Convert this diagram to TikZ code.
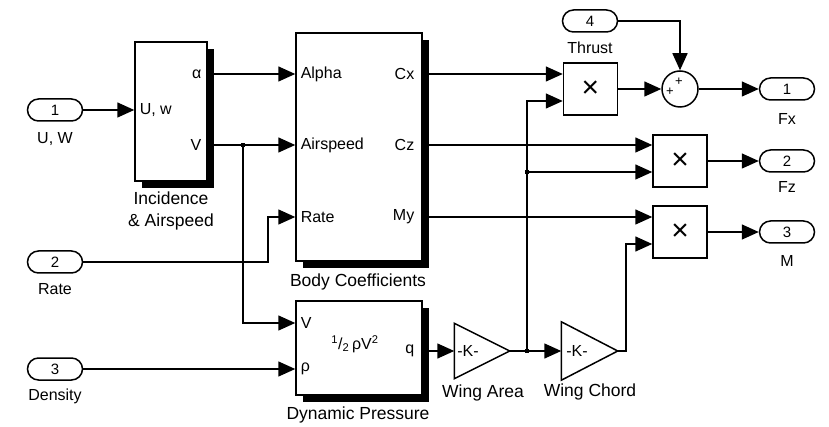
\documentclass[tikz,border=0pt]{standalone}
\usepackage{fontspec}
\setmainfont{Liberation Sans}
\usetikzlibrary{arrows.meta,positioning,shadows,calc}

\begin{document}
\begin{tikzpicture}[
  x=1pt, y=-1pt,
  line width=1.5pt,
  font=\fontsize{16}{18}\selectfont,
  blk/.style={draw, fill=white, line width=1.5pt, inner sep=0pt,
    drop shadow={shadow xshift=7pt, shadow yshift=-7pt, opacity=1, fill=black}},
  prod/.style={draw, fill=white, line width=1.5pt, minimum width=54pt, minimum height=52pt, inner sep=0pt, font=\fontsize{30}{30}\selectfont},
  port/.style={draw, rounded corners=11pt, minimum width=55pt, minimum height=22pt, inner sep=0pt, font=\fontsize{15}{16}\selectfont},
  plbl/.style={inner sep=1pt, font=\fontsize{16}{18}\selectfont},
  bname/.style={inner sep=0pt, align=center, font=\fontsize{17.5}{22}\selectfont},
  gain/.style={minimum height=54pt, inner sep=0pt},
  arr/.style={-{Triangle[length=17pt, width=15pt]}},
  dot/.style={fill, inner sep=0pt, minimum size=4.5pt}
]
\useasboundingbox (0,0) rectangle (829,427);

% inports
\node[port] (in1) at (55,110) {1};
\node[plbl] (in1lbl) at (55,139) {U, W};
\node[port] (in2) at (55,262) {2};
\node[plbl] (in2lbl) at (55,289) {Rate};
\node[port] (in3) at (55,369) {3};
\node[plbl] (in3lbl) at (55,396) {Density};
\node[port] (in4) at (590,21) {4};
\node[plbl] (in4lbl) at (590,48) {Thrust};

% incidence & airspeed
\node[blk, minimum width=72pt, minimum height=139pt] (inc) at (171,111.5) {};
\node[plbl, anchor=west] (inc-uw) at (138,110) {U, w};
\node[plbl, anchor=east] (inc-a) at (203,74) {α};
\node[plbl, anchor=east] (inc-v) at (203,145) {V};
\node[bname] (inclbl) at (171,211) {Incidence\\\& Airspeed};

% body coefficients
\node[blk, minimum width=126pt, minimum height=228pt] (body) at (359,147) {};
\node[plbl, anchor=west] (body-al) at (299,74) {Alpha};
\node[plbl, anchor=west] (body-as) at (299,145) {Airspeed};
\node[plbl, anchor=west] (body-r) at (299,217) {Rate};
\node[plbl, anchor=east] (body-cx) at (416,74) {Cx};
\node[plbl, anchor=east] (body-cz) at (416,145) {Cz};
\node[plbl, anchor=east] (body-my) at (416,217) {My};
\node[bname] (bodylbl) at (358,282) {Body Coefficients};

% dynamic pressure
\node[blk, minimum width=126pt, minimum height=94pt] (dyn) at (359,348) {};
\node[plbl, anchor=west] (dyn-v) at (299,323) {V};
\node[plbl, anchor=west] (dyn-r) at (299,369) {ρ};
\node[plbl, anchor=east] (dyn-q) at (416,351) {q};
\node[plbl] (dyn-f) at (355,344) {\textsuperscript{1}/\textsubscript{2}\,ρV\textsuperscript{2}};
\node[bname] (dynlbl) at (358,415) {Dynamic Pressure};

% gains
\node[gain, minimum width=54pt] (warea) at (482,351) {};
\draw[line width=1.5pt] (warea.north west) -- (warea.east) -- (warea.south west) -- cycle;
\node[plbl] (wareak) at (468,351) {-K-};
\node[bname] (warealbl) at (483,393) {Wing Area};
\node[gain, minimum width=55pt, minimum height=57pt] (wchord) at (589.5,351) {};
\draw[line width=1.5pt] (wchord.north west) -- (wchord.east) -- (wchord.south west) -- cycle;
\node[plbl] (wchordk) at (577,351) {-K-};
\node[bname] (wchordlbl) at (590,392) {Wing Chord};

% products and sum
\node[prod] (prod1) at (590.5,89) {×};
\node[prod] (prod2) at (680,161) {×};
\node[prod] (prod3) at (680,232) {×};
\node[draw, circle, minimum size=36pt, inner sep=0pt] (sum) at (680,89) {};
\node[inner sep=0pt, font=\fontsize{13}{13}\selectfont] (sumpa) at (670,92) {+};
\node[inner sep=0pt, font=\fontsize{13}{13}\selectfont] (sumpb) at (679,82) {+};

% outports
\node[port] (out1) at (787,89) {1};
\node[plbl] (out1lbl) at (787,119) {Fx};
\node[port] (out2) at (787,161) {2};
\node[plbl] (out2lbl) at (787,187) {Fz};
\node[port] (out3) at (787,232) {3};
\node[plbl] (out3lbl) at (787,261) {M};

% branch points
\node[dot] (vdot) at (243,145) {};
\node[dot] (adot) at (527,351) {};
\node[dot] (zdot) at (527,172) {};
\coordinate (rbend) at (268,262);

% signal lines
\draw[arr] (in1.east) -- (in1.east -| inc.west);
\draw[arr] (inc-a -| inc.east) -- (inc-a -| body.west);
\draw[arr] (inc-v -| inc.east) -- (inc-v -| body.west);
\draw[arr] (vdot.center) |- (dyn-v -| dyn.west);
\draw[arr] (in2.east) -- (rbend) |- (body-r -| body.west);
\draw[arr] (in3.east) -- (in3.east -| dyn.west);
\draw[arr] (body-cx -| body.east) -- (body-cx -| prod1.west);
\draw[arr] (body-cz -| body.east) -- (body-cz -| prod2.west);
\draw[arr] (body-my -| body.east) -- (body-my -| prod3.west);
\draw[arr] (dyn-q -| dyn.east) -- (dyn-q -| warea.west);
\draw (warea.east) -- (adot.center);
\draw[arr] (adot.center) -- (wchord.west);
\draw[arr] (adot.center) |- ($(prod1.west)+(0,12)$);
\draw[arr] (zdot.center) -- (zdot.center -| prod2.west);
\draw[arr] (wchord.east) -- ++(8,0) |- ($(prod3.west)+(0,12)$);
\draw[arr] (prod1.east) -- (sum.west);
\draw[arr] (in4.east) -| (sum.north);
\draw[arr] (sum.east) -- (out1.west);
\draw[arr] (prod2.east) -- (out2.west);
\draw[arr] (prod3.east) -- (out3.west);
\end{tikzpicture}
\end{document}
